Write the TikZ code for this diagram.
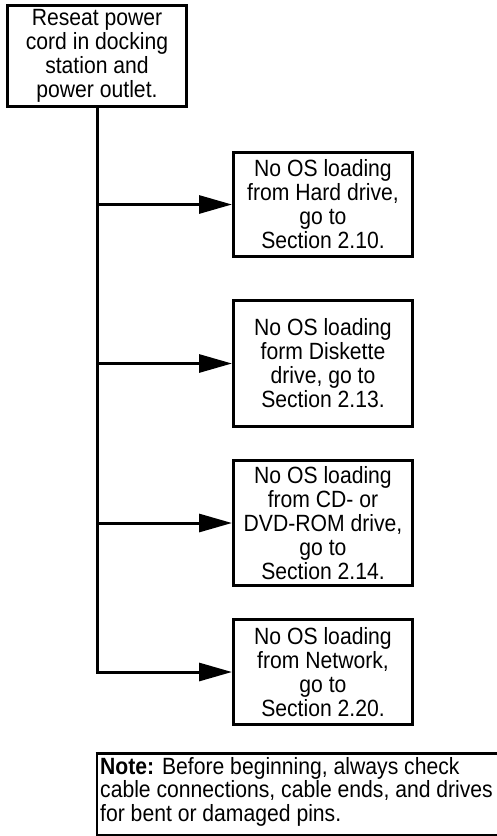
\documentclass[tikz,border=0pt]{standalone}
\usepackage{fontspec}
\setmainfont[FakeStretch=0.9]{Liberation Sans}
\usetikzlibrary{arrows.meta}
\begin{document}
\begin{tikzpicture}[x=1pt,y=-1pt,
  box/.style={draw, line width=3pt, align=center, inner sep=0pt, minimum width=179pt, font=\fontsize{23.5}{24}\selectfont},
  conn/.style={line width=3pt},
  arr/.style={line width=3pt, -{Triangle[length=33pt,width=18pt]}},
  notetext/.style={anchor=north west, inner sep=0pt, align=left, font=\fontsize{23.5}{23.5}\selectfont}]
\useasboundingbox (0,0) rectangle (497,836);
\node[box, minimum height=101pt] (top) at (97,56) {Reseat power\\cord in docking\\station and\\power outlet.};
\node[box, minimum height=104pt] (b1) at (323,204.5) {No OS loading\\from Hard drive,\\go to\\Section 2.10.};
\node[box, minimum height=126pt] (b2) at (323,363.5) {No OS loading\\form Diskette\\drive, go to\\Section 2.13.};
\node[box, minimum height=125pt] (b3) at (323,523) {No OS loading\\from CD- or\\DVD-ROM drive,\\go to\\Section 2.14.};
\node[box, minimum height=105pt] (b4) at (323,672) {No OS loading\\from Network,\\go to\\Section 2.20.};
\coordinate (j1) at (top.south |- b1.west);
\coordinate (j2) at (top.south |- b2.west);
\coordinate (j3) at (top.south |- b3.west);
\draw[arr] (top.south) |- (b4.west);
\draw[arr] (j1) -- (b1.west);
\draw[arr] (j2) -- (b2.west);
\draw[arr] (j3) -- (b3.west);
\node[notetext] (note) at (100,757) {\textbf{Note:} Before beginning, always check\\cable connections, cable ends, and drives\\for bent or damaged pins.};
\coordinate (ntl) at (97,753.5);
\coordinate (nbl) at (97,835);
\coordinate (ntr) at (540,753.5);
\coordinate (nbr) at (540,835);
\draw[line width=2pt] (ntl) -- (nbl) -- (nbr);
\draw[line width=3pt] (95.5,753.5) -- (ntr);
\end{tikzpicture}
\end{document}
